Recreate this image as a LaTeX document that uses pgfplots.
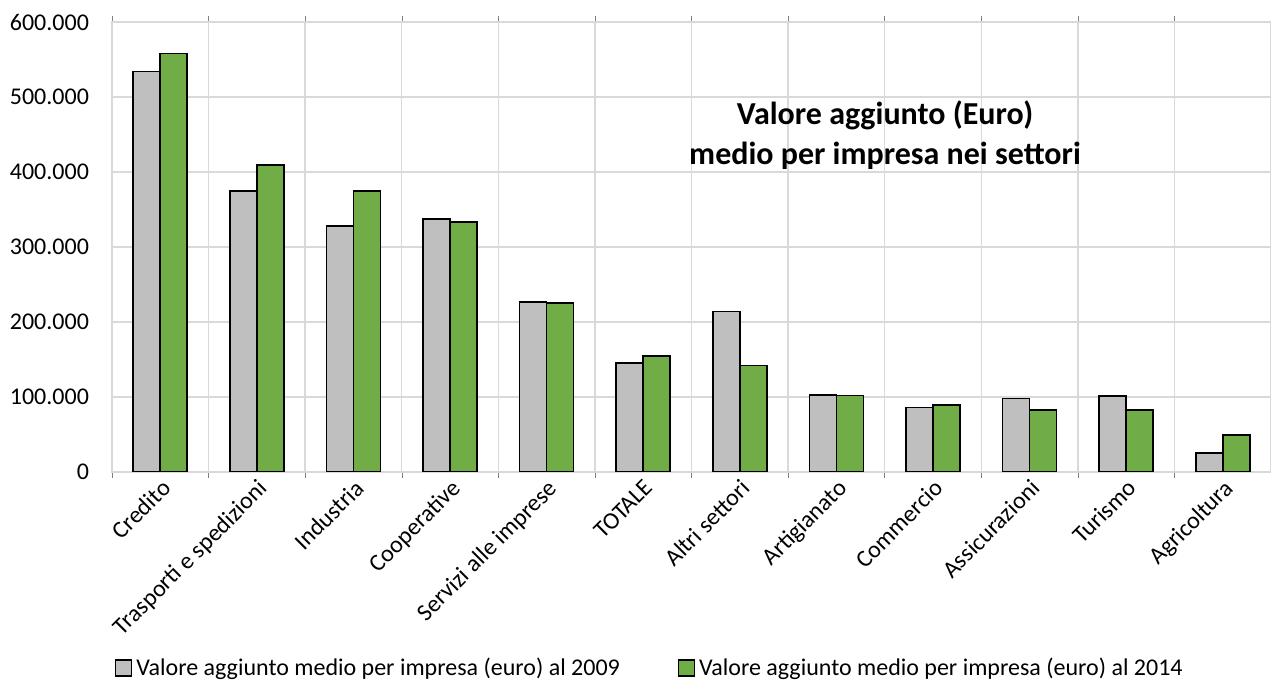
\documentclass[border=0pt]{standalone}
\usepackage{pgfplots}
\pgfplotsset{compat=1.18}
\usepackage{pgfplotstable}
\usepackage{fontspec}
\setmainfont{Carlito}
\usetikzlibrary{calc}

\definecolor{bargray}{HTML}{BFBFBF}
\definecolor{bargreen}{HTML}{70AD47}
\definecolor{gridgray}{HTML}{D9D9D9}

% x, 2009, 2014
\pgfplotstableread{
x  a    b
0  534  558
1  375  409
2  328  375
3  337  333
4  227  225
5  145  155
6  214  142
7  103  102
8  86   89
9  98   83
10 101  83
11 25   49
}\datatab

\begin{document}
\begin{tikzpicture}
\begin{axis}[
    scale only axis,
    width=579.5pt, height=225pt,
    ybar=0pt, bar width=13.5pt,
    xmin=-0.5, xmax=11.5,
    ymin=0, ymax=600,
    xtick={0,...,11},
    xticklabels={Credito,Trasporti e spedizioni,Industria,Cooperative,Servizi alle imprese,TOTALE,Altri settori,Artigianato,Commercio,Assicurazioni,Turismo,Agricoltura},
    xticklabel style={rotate=45, anchor=north east, font=\fontsize{12}{14}\selectfont, inner sep=2pt},
    ytick={0,100,...,600},
    yticklabels={0,100.000,200.000,300.000,400.000,500.000,600.000},
    yticklabel style={font=\fontsize{12}{14}\selectfont, xshift=-8pt},
    major tick length=0pt,
    minor xtick={-0.5,0.5,...,11.5},
    xminorgrids=true, ymajorgrids=true,
    grid style={gridgray, line width=0.75pt},
    minor grid style={gridgray, line width=0.75pt},
    axis line style={gridgray, line width=0.75pt},
    legend columns=2,
    legend style={draw=none, at={(0.465,0)}, anchor=center, yshift=-98pt,
        font=\fontsize{12}{14}\selectfont,
        /tikz/every odd column/.append style={column sep=0pt},
        /tikz/every even column/.append style={column sep=27pt}},
    legend image code/.code={\draw[#1, line width=0.6pt] (0pt,-4pt) rectangle (8pt,4pt);},
]
\addplot[fill=bargray, draw=black, line width=0.8pt] table[x=x, y=a] {\datatab};
\addplot[fill=bargreen, draw=black, line width=0.8pt] table[x=x, y=b] {\datatab};
\legend{Valore aggiunto medio per impresa (euro) al 2009, Valore aggiunto medio per impresa (euro) al 2014}
\node[font=\bfseries\fontsize{16}{20}\selectfont, align=center] at (rel axis cs:0.667,0.749)
    {Valore aggiunto (Euro)\\medio per impresa nei settori};
\end{axis}
\pgfresetboundingbox
\path ($(current axis.south west)+(-56pt,-106pt)$) rectangle ($(current axis.north east)+(0pt,11pt)$);
\end{tikzpicture}
\end{document}
